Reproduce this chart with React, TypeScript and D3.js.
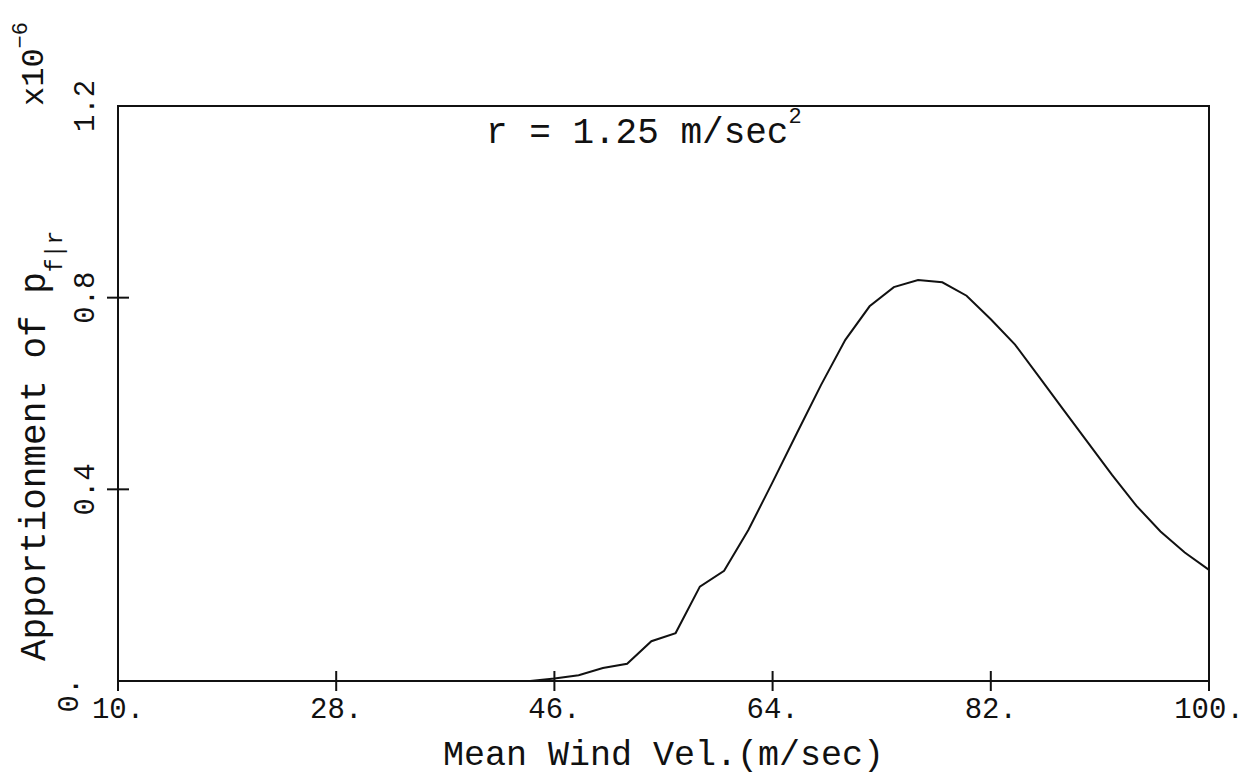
import React, { useRef, useEffect } from "react";
import * as d3 from "d3";

// Mean wind velocity (m/sec) and apportionment of p_f|r (x10^-6)
const windVel = [
  10, 12, 14, 16, 18, 20, 22, 24, 26, 28, 30, 32, 34, 36, 38, 40, 42, 44,
  46, 48, 50, 52, 54, 56, 58, 60, 62, 64, 66, 68, 70, 72, 74, 76, 78, 80,
  82, 84, 86, 88, 90, 92, 94, 96, 98, 100,
];
const apportionment = [
  0, 0, 0, 0, 0, 0, 0, 0, 0, 0, 0, 0, 0, 0, 0, 0, 0, 0,
  0.005, 0.012, 0.027, 0.036, 0.083, 0.1, 0.197, 0.23, 0.315, 0.415, 0.517, 0.618,
  0.712, 0.782, 0.822, 0.837, 0.832, 0.804, 0.755, 0.702, 0.634, 0.566, 0.498,
  0.43, 0.366, 0.312, 0.268, 0.232,
];
const xTicks = [10, 28, 46, 64, 82, 100];
const yTicks = [0, 0.4, 0.8, 1.2];

const FONT = "'Liberation Mono', 'DejaVu Sans Mono', monospace";

const App = () => {
  const svgRef = useRef<SVGSVGElement>(null);

  useEffect(() => {
    const svg = d3.select(svgRef.current);
    svg.selectAll("*").remove();

    const width = 1251;
    const height = 778;
    const margin = { top: 106, right: 42, bottom: 97, left: 118 };

    const x = d3.scaleLinear().domain([10, 100]).range([margin.left, width - margin.right]);
    const y = d3.scaleLinear().domain([0, 1.2]).range([height - margin.bottom, margin.top]);

    const x0 = x.range()[0];
    const x1 = x.range()[1];
    const y0 = y.range()[0];
    const y1 = y.range()[1];

    // frame
    svg
      .append("rect")
      .attr("x", x0)
      .attr("y", y1)
      .attr("width", x1 - x0)
      .attr("height", y0 - y1)
      .attr("fill", "none")
      .attr("stroke", "#111")
      .attr("stroke-width", 2);

    // x ticks (cross the axis)
    svg
      .append("g")
      .selectAll("line")
      .data(xTicks)
      .join("line")
      .attr("x1", (d) => x(d))
      .attr("x2", (d) => x(d))
      .attr("y1", y0 - 10)
      .attr("y2", y0 + 10)
      .attr("stroke", "#111")
      .attr("stroke-width", 2);

    svg
      .append("g")
      .selectAll("text")
      .data(xTicks)
      .join("text")
      .attr("x", (d) => x(d))
      .attr("y", y0 + 37)
      .attr("text-anchor", "middle")
      .attr("font-family", FONT)
      .attr("font-size", 29)
      .attr("fill", "#111")
      .text((d) => `${d}.`);

    // y ticks
    svg
      .append("g")
      .selectAll("line")
      .data(yTicks.slice(1, 3))
      .join("line")
      .attr("x1", x0 - 11)
      .attr("x2", x0 + 11)
      .attr("y1", (d) => y(d))
      .attr("y2", (d) => y(d))
      .attr("stroke", "#111")
      .attr("stroke-width", 2);

    svg
      .append("g")
      .selectAll("text")
      .data(yTicks)
      .join("text")
      .attr("transform", (d) =>
        d === 0 ? `translate(78,${y(d) + 14}) rotate(-90)` : `translate(94,${y(d)}) rotate(-90)`
      )
      .attr("text-anchor", "middle")
      .attr("font-family", FONT)
      .attr("font-size", 29)
      .attr("fill", "#111")
      .text((d) => (d === 0 ? "0." : d.toFixed(1)));

    // curve
    const line = d3
      .line<number>()
      .x((d, i) => x(windVel[i]))
      .y((d) => y(d));

    svg
      .append("path")
      .datum(apportionment)
      .attr("d", line)
      .attr("fill", "none")
      .attr("stroke", "#111")
      .attr("stroke-width", 2);

    // x-axis title
    svg
      .append("text")
      .attr("x", (x0 + x1) / 2)
      .attr("y", 765)
      .attr("text-anchor", "middle")
      .attr("font-family", FONT)
      .attr("font-size", 35)
      .attr("fill", "#111")
      .text("Mean Wind Vel.(m/sec)");

    // y-axis title with subscript
    const yTitle = svg
      .append("text")
      .attr("transform", "translate(45,661) rotate(-90)")
      .attr("font-family", FONT)
      .attr("font-size", 36)
      .attr("fill", "#111");
    yTitle.append("tspan").text("Apportionment of p");
    yTitle.append("tspan").attr("font-size", 23).attr("dy", 17).text("f|r");

    // multiplier
    const mult = svg
      .append("text")
      .attr("transform", "translate(43,106) rotate(-90)")
      .attr("font-family", FONT)
      .attr("font-size", 32)
      .attr("fill", "#111");
    mult.append("tspan").text("x10");
    mult.append("tspan").attr("font-size", 22).attr("dy", -16).text("−6");

    // annotation
    const note = svg
      .append("text")
      .attr("x", 486)
      .attr("y", 143)
      .attr("font-family", FONT)
      .attr("font-size", 36)
      .attr("fill", "#111");
    note.append("tspan").text("r = 1.25 m/sec");
    note.append("tspan").attr("font-size", 22).attr("dy", -20).text("2");
  }, []);

  return (
    <svg
      ref={svgRef}
      width={1251}
      height={778}
      style={{ position: "absolute", left: 0, top: 0, background: "#fff" }}
    ></svg>
  );
};

export default App;
